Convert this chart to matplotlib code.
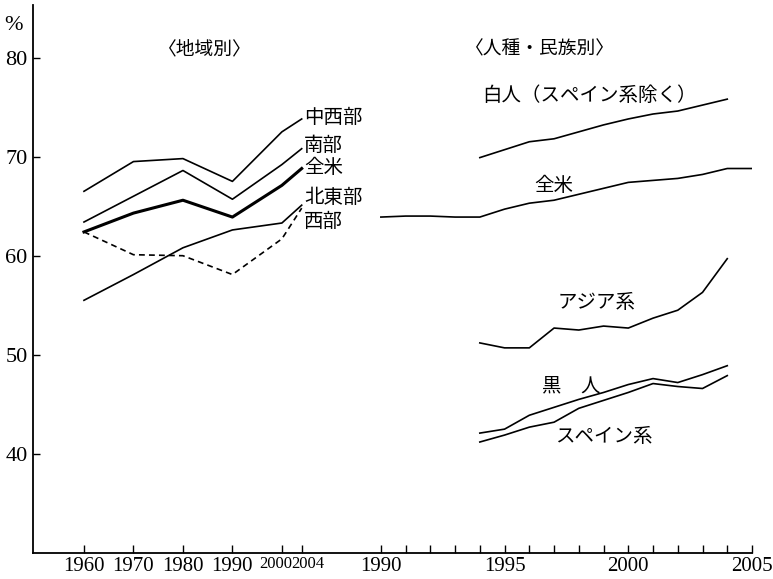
import matplotlib.pyplot as plt
from matplotlib.transforms import blended_transform_factory

# 地域別 (1960-2004)
reg_years = [1960, 1970, 1980, 1990, 2000, 2004]
midwest = [66.5, 69.5, 69.8, 67.5, 72.5, 73.8]
south = [63.4, 66.0, 68.6, 65.7, 69.2, 70.8]
us_reg = [62.4, 64.3, 65.6, 63.9, 67.1, 68.8]
northeast = [55.5, 58.1, 60.8, 62.6, 63.3, 65.1]
west = [62.4, 60.1, 60.0, 58.1, 61.7, 64.8]

# 人種・民族別
us_years = list(range(1990, 2006))
us_race = [63.9, 64.0, 64.0, 63.9, 63.9, 64.7, 65.3, 65.6, 66.2, 66.8, 67.4, 67.6, 67.8, 68.2, 68.8, 68.8]
race_years = list(range(1994, 2005))
white = [69.9, 70.7, 71.5, 71.8, 72.5, 73.2, 73.8, 74.3, 74.6, 75.2, 75.8]
asian = [51.2, 50.7, 50.7, 52.7, 52.5, 52.9, 52.7, 53.7, 54.5, 56.3, 59.7]
black = [42.1, 42.5, 43.9, 44.7, 45.5, 46.2, 47.0, 47.6, 47.2, 48.0, 48.9]
hispanic = [41.2, 41.9, 42.7, 43.2, 44.6, 45.4, 46.2, 47.1, 46.8, 46.6, 47.9]


def lpos(years):
    # 左パネル: 10年 = 2単位
    return [(y - 1960) * 0.2 for y in years]


def rpos(years):
    # 右パネル: 1年 = 1単位, 1990 = 12
    return [12 + (y - 1990) for y in years]


JP = ['Noto Sans CJK JP', 'DejaVu Sans']
NUM = 'Liberation Serif'

fig = plt.figure(figsize=(7.73, 5.79), dpi=100)
ax = fig.add_axes([33 / 773, 26 / 579, 719 / 773, 548 / 579])

ax.plot(lpos(reg_years), midwest, color='black', lw=1.2)
ax.plot(lpos(reg_years), south, color='black', lw=1.2)
ax.plot(lpos(reg_years), us_reg, color='black', lw=2.2)
ax.plot(lpos(reg_years), northeast, color='black', lw=1.2)
ax.plot(lpos(reg_years), west, color='black', lw=1.2, ls=(0, (3.5, 2.5)))

ax.plot(rpos(us_years), us_race, color='black', lw=1.2)
ax.plot(rpos(race_years), white, color='black', lw=1.2)
ax.plot(rpos(race_years), asian, color='black', lw=1.2)
ax.plot(rpos(race_years), black, color='black', lw=1.2)
ax.plot(rpos(race_years), hispanic, color='black', lw=1.2)

ax.set_xlim(-2.06, 27)
ax.set_ylim(30, 85.3)

for s in ['top', 'right']:
    ax.spines[s].set_visible(False)
for s in ['left', 'bottom']:
    ax.spines[s].set_linewidth(1.3)

# y軸
ax.set_yticks([40, 50, 60, 70, 80])
ax.set_yticklabels(['40', '50', '60', '70', '80'], fontfamily=NUM, fontsize=16)
ax.tick_params(axis='y', direction='in', length=5, width=1.0, pad=4)

# x軸
left_lab = ['1960', '1970', '1980', '1990', '', '']
right_ticks = list(range(1990, 2006))
right_lab = [str(y) if y % 5 == 0 else '' for y in right_ticks]
ax.set_xticks(lpos(reg_years) + rpos(right_ticks))
ax.set_xticklabels(left_lab + right_lab, fontfamily=NUM, fontsize=15)
ax.tick_params(axis='x', direction='in', length=6, width=1.0, pad=3)

tr = blended_transform_factory(ax.transData, ax.transAxes)
ax.text(lpos([2000])[0] - 0.25, -0.006, '2000', transform=tr, ha='center', va='top',
        fontfamily=NUM, fontsize=12)
ax.text(lpos([2004])[0] + 0.25, -0.006, '2004', transform=tr, ha='center', va='top',
        fontfamily=NUM, fontsize=12)

fig.text(14 / 773, 1 - 25 / 579, '%', ha='center', va='center', fontfamily=NUM, fontsize=16)

# 見出し
ax.text(4.88, 80.9, '〈地域別〉', ha='center', va='center', family=JP, fontsize=13.5)
ax.text(18.45, 80.9, '〈人種・民族別〉', ha='center', va='center', family=JP, fontsize=13.5)

# 系列ラベル (左)
lx = lpos([2004])[0] + 0.1
for lab, yv in [('中西部', 73.9), ('南部', 71.1), ('全米', 68.9), ('北東部', 65.9), ('西部', 63.5)]:
    ax.text(lx, yv, lab, ha='left', va='center', family=JP, fontsize=14)

# 系列ラベル (右)
ax.text(16.1, 76.2, '白人（スペイン系除く）', ha='left', va='center', family=JP, fontsize=14)
ax.text(19.0, 67.1, '全米', ha='center', va='center', family=JP, fontsize=14)
ax.text(20.7, 55.25, 'アジア系', ha='center', va='center', family=JP, fontsize=14)
ax.text(19.7, 46.9, '黒　人', ha='center', va='center', family=JP, fontsize=14)
ax.text(21.0, 41.8, 'スペイン系', ha='center', va='center', family=JP, fontsize=14)

fig.savefig('out.png', dpi=100)
